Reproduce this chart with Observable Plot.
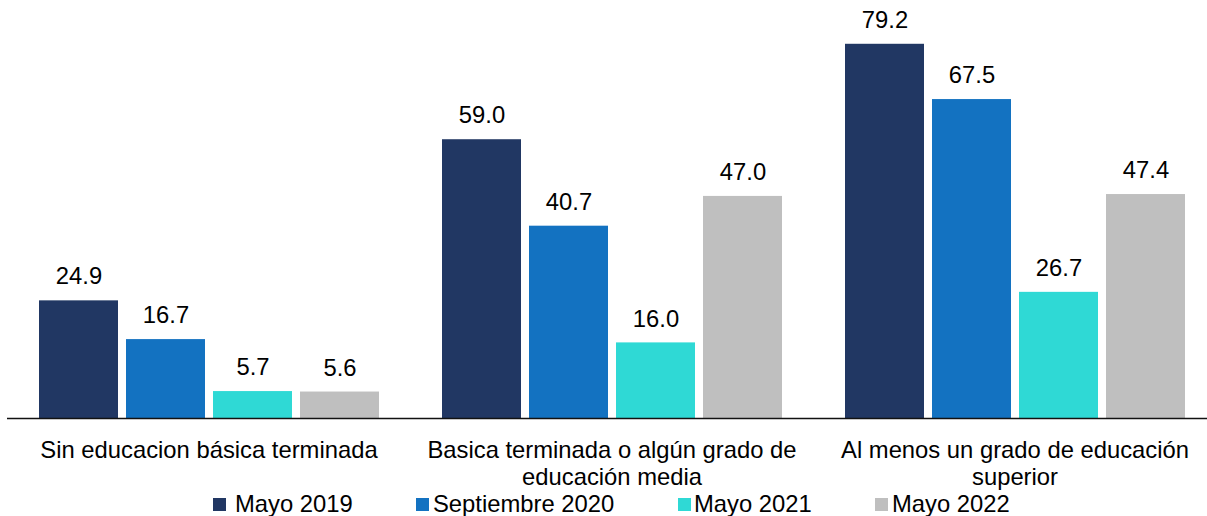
<!DOCTYPE html>
<html>
<head>
<meta charset="utf-8">
<script src="https://cdn.jsdelivr.net/npm/d3@7"></script>
<script src="https://cdn.jsdelivr.net/npm/@observablehq/plot@0.6"></script>
<style>
  html, body { margin: 0; padding: 0; background: #fff; }
  body { width: 1207px; height: 516px; overflow: hidden; font-family: "Liberation Sans", Arial, sans-serif; }
  #legend { position: relative; height: 26px; font-size: 23.8px; line-height: 26px; color: #000; }
  #legend .item { position: absolute; top: 1px; white-space: nowrap; }
  #legend .sw { display: inline-block; width: 13px; height: 13px; vertical-align: middle; margin-top: -3px; }
</style>
</head>
<body>
<div id="chart"></div>
<div id="legend"></div>
<script>
const categories = [
  "Sin educacion básica terminada",
  "Basica terminada o algún grado de educación media",
  "Al menos un grado de educación superior"
];
const tickLabels = [
  "Sin educacion básica terminada",
  "Basica terminada o algún grado de\neducación media",
  "Al menos un grado de educación\nsuperior"
];
const seriesNames = ["Mayo 2019", "Septiembre 2020", "Mayo 2021", "Mayo 2022"];
const mayo2019 = [24.9, 59.0, 79.2];
const septiembre2020 = [16.7, 40.7, 67.5];
const mayo2021 = [5.7, 16.0, 26.7];
const mayo2022 = [5.6, 47.0, 47.4];
const colors = ["#213763", "#1372C1", "#2FD9D5", "#BFBFBF"];
const legendLeft = [213, 416, 678, 875];
const legendGap = [9, 4, 3, 4];

const seriesValues = [mayo2019, septiembre2020, mayo2021, mayo2022];
const data = [];
categories.forEach((c, i) => {
  seriesNames.forEach((s, j) => {
    data.push({category: c, series: s, value: seriesValues[j][i]});
  });
});

const chart = Plot.plot({
  width: 1207,
  height: 490,
  marginLeft: 7,
  marginRight: -9,
  marginTop: 40,
  marginBottom: 72,
  style: {fontFamily: "'Liberation Sans', Arial, sans-serif", fontSize: "23.8px", color: "#000", background: "#fff"},
  fx: {domain: categories, padding: 0, label: null, axis: null},
  x: {domain: seriesNames, paddingInner: 0.092, paddingOuter: 0.34, axis: null},
  y: {domain: [0, 80], axis: null},
  color: {domain: seriesNames, range: colors},
  marks: [
    Plot.barY(data, {fx: "category", x: "series", y: "value", fill: "series"}),
    Plot.text(data, {fx: "category", x: "series", y: "value", text: d => d3.format(".1f")(d.value), dy: -24, fill: "#000"}),
    Plot.ruleY([0], {stroke: "#111", strokeWidth: 1.6}),
    Plot.axisFx({
      anchor: "bottom",
      tickSize: 0,
      tickPadding: 21,
      label: null,
      lineHeight: 1.12,
      fill: "#000",
      tickFormat: d => tickLabels[categories.indexOf(d)]
    })
  ]
});
document.getElementById("chart").appendChild(chart);

const legend = document.getElementById("legend");
seriesNames.forEach((s, j) => {
  const item = document.createElement("span");
  item.className = "item";
  item.style.left = legendLeft[j] + "px";
  const sw = document.createElement("span");
  sw.className = "sw";
  sw.style.background = colors[j];
  sw.style.marginRight = legendGap[j] + "px";
  item.appendChild(sw);
  item.appendChild(document.createTextNode(s));
  legend.appendChild(item);
});
</script>
</body>
</html>
